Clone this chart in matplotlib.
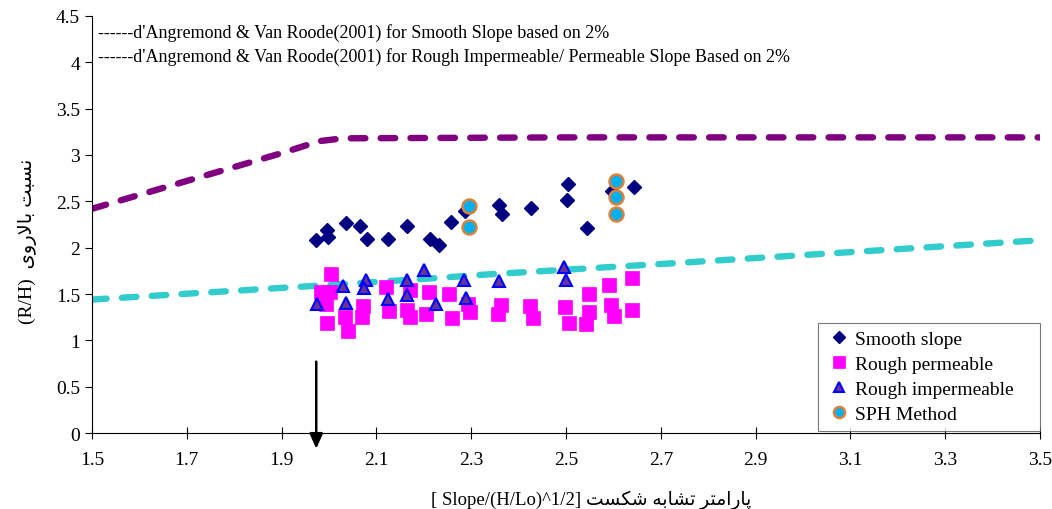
import matplotlib
matplotlib.use('Agg')
import matplotlib.pyplot as plt
import numpy as np
from matplotlib.ticker import FormatStrFormatter, FixedLocator, MultipleLocator

plt.rcParams['font.family'] = ['Liberation Serif', 'DejaVu Sans']
plt.rcParams['lines.scale_dashes'] = False

# --- data ---
smooth_x = [1.972, 1.996, 1.997, 2.035, 2.065, 2.080, 2.124, 2.164, 2.213, 2.232,
            2.257, 2.287, 2.359, 2.364, 2.427, 2.505, 2.501, 2.545, 2.596, 2.643]
smooth_y = [2.08, 2.19, 2.11, 2.27, 2.23, 2.09, 2.09, 2.23, 2.09, 2.03,
            2.28, 2.40, 2.46, 2.36, 2.43, 2.69, 2.51, 2.21, 2.61, 2.65]

perm_x = [2.005, 1.982, 2.003, 1.993, 1.995, 2.034, 2.039, 2.072, 2.069, 2.121,
          2.126, 2.171, 2.165, 2.171, 2.210, 2.205, 2.254, 2.259, 2.294, 2.297,
          2.362, 2.357, 2.425, 2.430, 2.498, 2.507, 2.548, 2.548, 2.543, 2.590,
          2.595, 2.601, 2.639, 2.639]
perm_y = [1.72, 1.52, 1.52, 1.39, 1.19, 1.25, 1.10, 1.375, 1.25, 1.58,
          1.32, 1.54, 1.33, 1.25, 1.52, 1.28, 1.50, 1.24, 1.39, 1.31,
          1.38, 1.28, 1.37, 1.24, 1.36, 1.19, 1.50, 1.31, 1.18, 1.60,
          1.38, 1.26, 1.67, 1.33]

imperm_x = [1.975, 2.030, 2.035, 2.078, 2.074, 2.124, 2.164, 2.164, 2.201, 2.226,
            2.285, 2.290, 2.359, 2.496, 2.500]
imperm_y = [1.39, 1.59, 1.40, 1.65, 1.57, 1.445, 1.65, 1.49, 1.76, 1.39,
            1.65, 1.46, 1.64, 1.79, 1.65]

sph_x = [2.296, 2.296, 2.605, 2.605, 2.605]
sph_y = [2.45, 2.22, 2.72, 2.55, 2.36]

smooth_curve_x = [1.5, 1.7, 1.9, 1.98, 2.03, 2.5, 3.0, 3.5]
smooth_curve_y = [2.42, 2.72, 3.02, 3.15, 3.18, 3.19, 3.19, 3.19]
rough_curve_x = [1.5, 1.945, 2.22, 2.33, 2.72, 3.0, 3.5]
rough_curve_y = [1.44, 1.58, 1.67, 1.71, 1.83, 1.92, 2.08]

note_lines = ["------d'Angremond & Van Roode(2001) for Smooth Slope based on 2%",
              "------d'Angremond & Van Roode(2001) for Rough Impermeable/ Permeable Slope Based on 2%"]
legend_labels = ['Smooth slope', 'Rough permeable', 'Rough impermeable', 'SPH Method']

ylabel_fa = 'نسبت بالاروی'
xlabel_fa = 'پارامتر تشابه شکست'


# matplotlib has no Arabic shaping, so pick presentation forms by hand
FORMS = {
    'ا': ('\uFE8D', '\uFE8E', None, None),
    'ب': ('\uFE8F', '\uFE90', '\uFE91', '\uFE92'),
    'پ': ('\uFB56', '\uFB57', '\uFB58', '\uFB59'),
    'ت': ('\uFE95', '\uFE96', '\uFE97', '\uFE98'),
    'ر': ('\uFEAD', '\uFEAE', None, None),
    'و': ('\uFEED', '\uFEEE', None, None),
    'س': ('\uFEB1', '\uFEB2', '\uFEB3', '\uFEB4'),
    'ش': ('\uFEB5', '\uFEB6', '\uFEB7', '\uFEB8'),
    'ک': ('\uFB8E', '\uFB8F', '\uFB90', '\uFB91'),
    'ل': ('\uFEDD', '\uFEDE', '\uFEDF', '\uFEE0'),
    'م': ('\uFEE1', '\uFEE2', '\uFEE3', '\uFEE4'),
    'ن': ('\uFEE5', '\uFEE6', '\uFEE7', '\uFEE8'),
    'ه': ('\uFEE9', '\uFEEA', '\uFEEB', '\uFEEC'),
    'ی': ('\uFBFC', '\uFBFD', '\uFBFE', '\uFBFF'),
}


def shape_word(word):
    out = []
    i = 0
    while i < len(word):
        c = word[i]
        prev = word[i - 1] if i > 0 else None
        joins_prev = prev is not None and prev in FORMS and FORMS[prev][2] is not None
        if c == 'ل' and i + 1 < len(word) and word[i + 1] == 'ا':
            out.append('\uFEFC' if joins_prev else '\uFEFB')
            i += 2
            continue
        nxt = word[i + 1] if i + 1 < len(word) else None
        joins_next = FORMS[c][2] is not None and nxt in FORMS
        iso, fin, ini, med = FORMS[c]
        if joins_prev and joins_next:
            out.append(med)
        elif joins_prev:
            out.append(fin)
        elif joins_next:
            out.append(ini)
        else:
            out.append(iso)
        i += 1
    return ''.join(reversed(out))


def rtl(text):
    # whole phrase right to left
    return ' '.join(shape_word(w) for w in reversed(text.split()))


fig = plt.figure(figsize=(10.52, 5.10), dpi=100)
ax = fig.add_axes([0.0875, 0.149, 0.9011, 0.8177])

l1, = ax.plot(smooth_curve_x, smooth_curve_y, color='#800080', lw=4.6, dashes=(10.5, 11))
l1.set_dash_capstyle('round')
l2, = ax.plot(rough_curve_x, rough_curve_y, color='#33CCCC', lw=4.6, dashes=(10.5, 11))
l2.set_dash_capstyle('round')

ax.plot(smooth_x, smooth_y, 'D', color='#000080', ms=7.5, mec='#000080',
        label=legend_labels[0], zorder=3)
ax.plot(perm_x, perm_y, 's', color='#FF00FF', ms=10, mec='#FF00FF', mew=0.5,
        label=legend_labels[1], zorder=3)
ax.plot(imperm_x, imperm_y, '^', color='#663399', ms=9, mec='#0000FF', mew=1.5,
        label=legend_labels[2], zorder=4)
ax.plot(sph_x, sph_y, 'o', color='#00B0F0', ms=10, mec='#D9823B', mew=1.8,
        label=legend_labels[3], zorder=5)

ax.annotate('', xy=(1.973, -0.17), xytext=(1.973, 0.77), annotation_clip=False,
            arrowprops=dict(arrowstyle='-|>,head_length=0.9,head_width=0.4', color='black',
                            lw=1.8, shrinkA=0, shrinkB=0))

for k, line in enumerate(note_lines):
    ax.text(1.513, 4.33 - 0.26 * k, line, fontsize=13, va='center', ha='left')

ax.set_xlim(1.5, 3.5)
ax.set_ylim(0, 4.5)
ax.xaxis.set_major_locator(FixedLocator(np.arange(1.5, 3.51, 0.2)))
ax.yaxis.set_major_locator(MultipleLocator(0.5))
ax.xaxis.set_major_formatter(FormatStrFormatter('%g'))
ax.yaxis.set_major_formatter(FormatStrFormatter('%g'))
ax.tick_params(axis='x', direction='inout', length=8, labelsize=14, pad=9)
ax.tick_params(axis='y', direction='out', length=5, labelsize=14)
ax.spines['top'].set_visible(False)
ax.spines['right'].set_visible(False)

ax.set_xlabel('[ Slope/(H/Lo)^1/2] ' + rtl(xlabel_fa), fontsize=13.5)
ax.xaxis.set_label_coords(0.527, -0.135)
ax.set_ylabel('(R/H)  ' + rtl(ylabel_fa), fontsize=14)
ax.yaxis.set_label_coords(-0.058, 0.463)

leg = ax.legend(loc='lower left', bbox_to_anchor=(0.766, 0.005, 0.234, 0.27),
                mode='expand', fontsize=14, frameon=True, fancybox=False,
                edgecolor='#555555', handlelength=1.3, handletextpad=0.2,
                borderpad=0.4, labelspacing=0.38, borderaxespad=0, markerscale=0.8)
leg.get_frame().set_linewidth(0.8)

fig.savefig('out.png', dpi=100)
